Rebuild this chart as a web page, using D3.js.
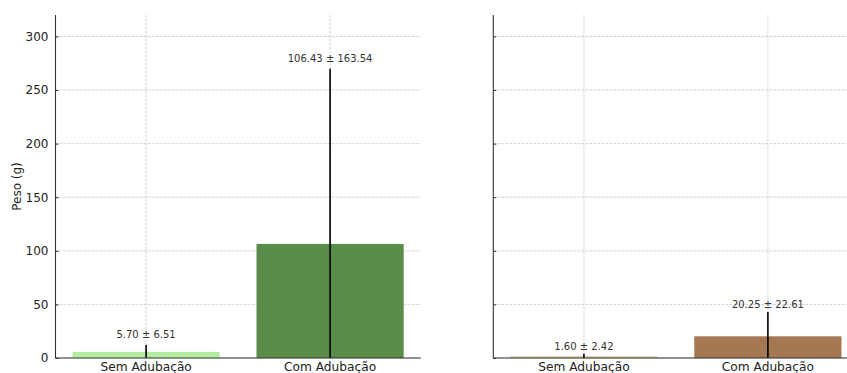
<!DOCTYPE html>
<html>
<head>
<meta charset="utf-8">
<script src="https://cdn.jsdelivr.net/npm/d3@7"></script>
<style>
  html, body { margin: 0; padding: 0; background: #fff; }
  svg { display: block; font-family: "DejaVu Sans", sans-serif; }
</style>
</head>
<body>
<svg id="chart" width="847" height="373"></svg>
<script>
// Categories on each panel
const categories = ["Sem Adubação", "Com Adubação"];

// Left panel: mean and standard deviation of weight (g)
const leftMeans = [5.70, 106.43];
const leftStd = [6.51, 163.54];
const leftColors = ["#b3eca0", "#588c48"];

// Right panel: mean and standard deviation of weight (g)
const rightMeans = [1.60, 20.25];
const rightStd = [2.42, 22.61];
const rightColors = ["#dbc7a2", "#a47852"];

// Y axis ticks and label
const yTicks = [0, 50, 100, 150, 200, 250, 300];
const yLabel = "Peso (g)";

const svg = d3.select("#chart");

const plotTop = 15, plotBottom = 358;
const y = d3.scaleLinear().domain([0, 320]).range([plotBottom, plotTop]);

const panels = [
  { x0: 55.5, x1: 420.7, means: leftMeans, std: leftStd, colors: leftColors, labelGap: 7, showTickLabels: true },
  { x0: 493.3, x1: 858.5, means: rightMeans, std: rightStd, colors: rightColors, labelGap: 4, showTickLabels: false }
];

panels.forEach(p => {
  const x = d3.scaleBand()
    .domain(categories)
    .range([p.x0, p.x1])
    .paddingInner(0.2)
    .paddingOuter(0.0925);

  const g = svg.append("g");

  // Horizontal grid
  g.append("g").selectAll("line").data(yTicks).join("line")
    .attr("x1", p.x0).attr("x2", p.x1)
    .attr("y1", d => y(d)).attr("y2", d => y(d))
    .attr("stroke", "#c8c8c8").attr("stroke-width", 0.8)
    .attr("stroke-dasharray", "2.8,1.2");

  // Vertical grid at category centres
  g.append("g").selectAll("line").data(categories).join("line")
    .attr("x1", d => x(d) + x.bandwidth() / 2).attr("x2", d => x(d) + x.bandwidth() / 2)
    .attr("y1", plotTop).attr("y2", plotBottom)
    .attr("stroke", "#c8c8c8").attr("stroke-width", 0.8)
    .attr("stroke-dasharray", "2.8,1.2");

  // Bars
  g.append("g").selectAll("rect").data(categories).join("rect")
    .attr("x", d => x(d))
    .attr("width", x.bandwidth())
    .attr("y", (d, i) => y(p.means[i]))
    .attr("height", (d, i) => y(0) - y(p.means[i]))
    .attr("fill", (d, i) => p.colors[i]);

  // Error bars (clipped at zero)
  g.append("g").selectAll("line").data(categories).join("line")
    .attr("x1", d => x(d) + x.bandwidth() / 2).attr("x2", d => x(d) + x.bandwidth() / 2)
    .attr("y1", (d, i) => y(Math.max(0, p.means[i] - p.std[i])))
    .attr("y2", (d, i) => y(p.means[i] + p.std[i]))
    .attr("stroke", "#000").attr("stroke-width", 1.6);

  // Value labels
  g.append("g").selectAll("text").data(categories).join("text")
    .attr("x", d => x(d) + x.bandwidth() / 2)
    .attr("y", (d, i) => y(p.means[i] + p.std[i]) - p.labelGap)
    .attr("text-anchor", "middle")
    .attr("font-size", "10px")
    .attr("fill", "#333")
    .text((d, i) => `${p.means[i].toFixed(2)} ± ${p.std[i].toFixed(2)}`);

  // Y axis with inward ticks
  const yAxis = d3.axisLeft(y).tickValues(yTicks).tickSize(-3).tickPadding(7);
  if (!p.showTickLabels) yAxis.tickFormat("");
  const ya = g.append("g").attr("transform", `translate(${p.x0},0)`).call(yAxis);
  ya.select(".domain").attr("d", `M0,${plotTop}V${plotBottom}`).attr("stroke", "#333").attr("stroke-width", 1.1);
  ya.selectAll(".tick line").attr("stroke", "#333").attr("stroke-width", 1);
  ya.selectAll(".tick text").attr("font-size", "12px").attr("fill", "#222")
    .attr("font-family", "DejaVu Sans, sans-serif");

  // X axis baseline and category labels
  const xAxis = d3.axisBottom(x).tickSize(0).tickPadding(4.5);
  const xa = g.append("g").attr("transform", `translate(0,${plotBottom})`).call(xAxis);
  xa.select(".domain").attr("d", `M${p.x0},0H${p.x1}`).attr("stroke", "#333").attr("stroke-width", 1.1);
  xa.selectAll(".tick text").attr("font-size", "12.2px").attr("fill", "#222")
    .attr("font-family", "DejaVu Sans, sans-serif");
});

// Y axis title
svg.append("text")
  .attr("transform", `translate(21,${(plotTop + plotBottom) / 2}) rotate(-90)`)
  .attr("text-anchor", "middle")
  .attr("font-size", "12px")
  .attr("fill", "#222")
  .text(yLabel);
</script>
</body>
</html>
